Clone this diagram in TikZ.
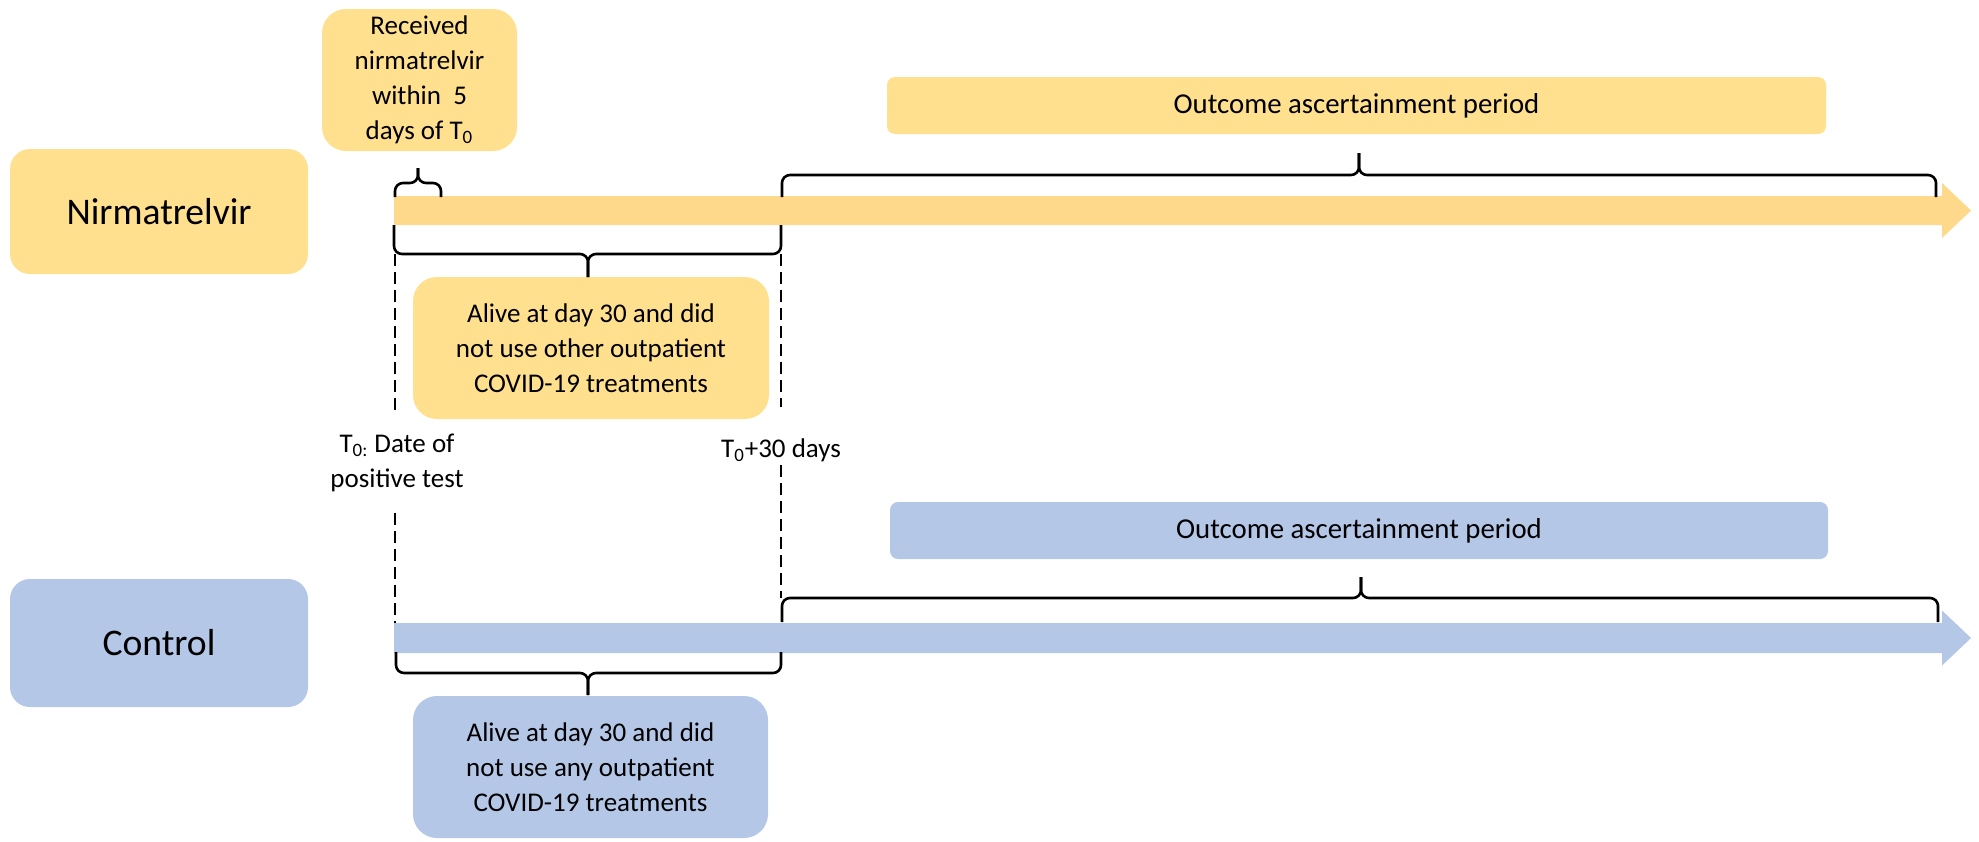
\documentclass[tikz,border=0pt]{standalone}
\usepackage{fontspec}
\setmainfont{Carlito}
\definecolor{ybox}{HTML}{FEE08F}
\definecolor{yarrow}{HTML}{FED98C}
\definecolor{bbox}{HTML}{B4C7E7}
\begin{document}
\begin{tikzpicture}[x=0.5pt,y=-0.5pt,
  lbl/.style={font=\fontsize{13.5}{17.5}\selectfont,align=center,inner sep=0pt},
  big/.style={font=\fontsize{18.8}{22}\selectfont},
  outl/.style={font=\fontsize{14.4}{17.5}\selectfont},
  ybx/.style={fill=ybox,draw=none,rounded corners=12pt,lbl},
  bbx/.style={fill=bbox,draw=none,rounded corners=12pt,lbl},
  brc/.style={line width=1.3pt,black,rounded corners=4pt,line join=round},
  dsh/.style={dashed,dash pattern=on 6pt off 3pt,line width=1pt}]
\useasboundingbox (0,0) rectangle (1979,841);

% group boxes
\node[ybx,big,rounded corners=10pt,minimum width=149pt,minimum height=62.5pt] (nir) at (159,211.5) {Nirmatrelvir};
\node[bbx,big,rounded corners=10pt,minimum width=149pt,minimum height=64pt] (ctl) at (159,643) {Control};

% timeline arrows
\fill[yarrow] (394,196) -- (1942,196) -- (1942,183) -- (1971,210.5) -- (1942,238) -- (1942,225) -- (394,225) -- cycle;
\fill[bbox] (394,623) -- (1942,623) -- (1942,610.5) -- (1971,638) -- (1942,665.5) -- (1942,653) -- (394,653) -- cycle;

% upper notes
\node[ybx,minimum width=97.5pt,minimum height=71pt] (recv) at (419.5,80) {Received\\nirmatrelvir\\within\ \ 5\\days of T\textsubscript{0}};
\node[ybx,outl,rounded corners=4pt,minimum width=469.5pt,minimum height=28.5pt] (outy) at (1356.5,105.5) {Outcome ascertainment period};
\node[ybx,minimum width=178pt,minimum height=71pt] (alivey) at (591,348) {Alive at day 30 and did\\not use other outpatient\\COVID-19 treatments};

% lower notes
\node[bbx,outl,rounded corners=4pt,minimum width=469pt,minimum height=28.5pt] (outb) at (1359,530.5) {Outcome ascertainment period};
\node[bbx,minimum width=177.5pt,minimum height=71pt] (aliveb) at (590.5,767) {Alive at day 30 and did\\not use any outpatient\\COVID-19 treatments};

% time labels
\node[lbl] (t0) at (397,463) {T\textsubscript{0:} Date of\\positive test};
\node[lbl] (t30) at (781,450) {T\textsubscript{0}+30 days};

% braces
\draw[brc] (395,197) -- (395,183) -- (418,183) -- (418,168);
\draw[brc] (418,168) -- (418,183) -- (441,183) -- (441,197);
\draw[brc] (782,197) -- (782,175) -- (1359,175) -- (1359,153);
\draw[brc] (1359,153) -- (1359,175) -- (1936,175) -- (1936,197);
\draw[brc] (394,225) -- (394,254) -- (588,254) -- (588,277);
\draw[brc] (588,277) -- (588,254) -- (781,254) -- (781,225);
\draw[brc] (782,622) -- (782,598) -- (1361,598) -- (1361,577);
\draw[brc] (1361,577) -- (1361,598) -- (1938,598) -- (1938,622);
\draw[brc] (396,652) -- (396,673) -- (588,673) -- (588,695);
\draw[brc] (588,695) -- (588,673) -- (781,673) -- (781,652);

% dashed guides
\draw[dsh] (395,254) -- (395,415);
\draw[dsh] (395,513) -- (395,623);
\draw[dsh] (781,254) -- (781,407);
\draw[dsh] (781,465) -- (781,598);
\end{tikzpicture}
\end{document}
